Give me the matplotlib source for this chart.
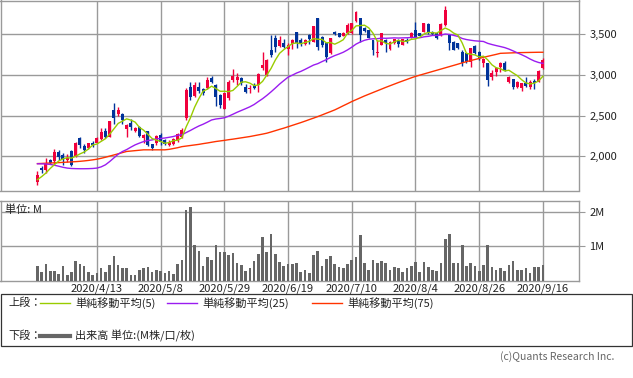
import numpy as np
import pandas as pd
import matplotlib
matplotlib.use('Agg')
import matplotlib.pyplot as plt
from matplotlib.lines import Line2D
from matplotlib.patches import Rectangle
from matplotlib.ticker import FuncFormatter

plt.rcParams['font.family'] = ['Noto Sans CJK JP', 'DejaVu Sans']

# ---------------- data ----------------
holidays = ['2020-04-29', '2020-05-04', '2020-05-05', '2020-05-06',
            '2020-07-23', '2020-07-24', '2020-08-10']
dates = [d for d in pd.bdate_range('2020-03-24', '2020-09-16')
         if d.strftime('%Y-%m-%d') not in holidays]

opens = [1690,1862,1834,1955,1936,2051,2018,1956,2059,2005,
         2222,2120,2100,2168,2168,2210,2316,2242,2569,2520,
         2520,2330,2413,2316,2360,2222,2312,2145,2161,2265,
         2202,2135,2153,2190,2235,2475,2850,2740,2845,2820,
         2835,2965,2875,2753,2578,2720,2937,2937,2957,2855,
         2822,2875,2875,3080,2998,3304,3447,3353,3394,3320,
         3374,3520,3426,3374,3488,3406,3692,3467,3386,3263,
         3528,3508,3476,3508,3508,3663,3692,3570,3549,3426,
         3263,3365,3426,3312,3386,3426,3365,3426,3467,3549,
         3508,3528,3623,3528,3508,3488,3610,3488,3406,3386,
         3283,3263,3161,3353,3283,3149,3149,2970,3038,3100,
         3149,2916,2945,2855,2835,2904,2847,2928,2916,3080]
highs = [1815,1883,1980,1969,2091,2079,2038,2030,2079,2181,
         2242,2153,2168,2189,2242,2345,2345,2438,2651,2602,
         2536,2398,2455,2357,2373,2271,2316,2150,2260,2285,
         2215,2195,2225,2285,2345,2835,2916,2908,2916,2835,
         2970,2990,2890,2761,2773,2937,3068,3019,2977,2884,
         2875,2896,3026,3283,3190,3488,3488,3476,3435,3386,
         3439,3528,3450,3440,3500,3598,3700,3470,3386,3455,
         3537,3515,3525,3631,3640,3782,3692,3580,3555,3426,
         3426,3508,3440,3415,3440,3440,3440,3445,3530,3651,
         3515,3640,3630,3535,3515,3630,3843,3500,3410,3390,
         3304,3270,3325,3360,3290,3202,3149,3060,3100,3160,
         3165,2980,2950,2920,2900,2970,2940,2945,3055,3202]
lows = [1650,1793,1797,1907,1907,1956,1895,1928,1875,1997,
        2100,2038,2087,2112,2161,2202,2222,2235,2398,2495,
        2400,2242,2324,2303,2235,2168,2128,2079,2140,2140,
        2135,2120,2140,2180,2225,2447,2691,2732,2780,2750,
        2825,2900,2618,2590,2578,2691,2916,2875,2875,2773,
        2773,2822,2794,3059,2986,3222,3283,3345,3325,3245,
        3316,3325,3355,3365,3374,3400,3304,3340,3161,3255,
        3490,3460,3470,3495,3500,3651,3406,3530,3447,3243,
        3222,3365,3283,3305,3380,3345,3360,3395,3450,3460,
        3470,3520,3500,3490,3440,3480,3598,3304,3300,3315,
        3108,3150,3100,3255,3180,3100,2863,2940,2980,3038,
        3040,2900,2822,2840,2805,2850,2820,2820,2910,3075]
closes = [1775,1834,1904,1923,2051,1997,1965,1977,1895,2168,
          2140,2079,2161,2140,2230,2303,2242,2438,2467,2565,
          2440,2385,2360,2345,2245,2263,2135,2100,2245,2170,
          2145,2181,2215,2271,2318,2814,2732,2875,2800,2773,
          2937,2916,2732,2630,2773,2916,2986,2977,2896,2794,
          2835,2835,3010,3120,3181,3243,3345,3426,3345,3370,
          3426,3386,3374,3426,3435,3598,3345,3365,3215,3455,
          3496,3467,3516,3610,3631,3773,3488,3537,3447,3304,
          3283,3508,3386,3406,3435,3378,3435,3406,3516,3467,
          3476,3631,3508,3496,3447,3623,3794,3386,3304,3325,
          3141,3161,3325,3263,3202,3190,2937,3019,3080,3141,
          3059,2977,2847,2916,2896,2863,2916,2896,3051,3181]
volume_m = [0.41,0.26,0.49,0.29,0.29,0.20,0.41,0.17,0.26,0.58,
            0.47,0.41,0.26,0.17,0.23,0.35,0.26,0.44,0.70,0.44,
            0.35,0.35,0.17,0.15,0.32,0.35,0.38,0.26,0.32,0.29,
            0.23,0.29,0.20,0.47,0.61,2.04,2.13,1.02,0.87,0.41,
            0.67,0.61,1.02,0.84,0.84,0.73,0.79,0.50,0.44,0.29,
            0.35,0.58,0.76,1.28,0.82,1.34,0.76,0.55,0.41,0.47,
            0.47,0.50,0.26,0.32,0.23,0.73,0.87,0.41,0.64,0.70,
            0.47,0.38,0.35,0.47,0.61,0.67,1.31,0.52,0.32,0.61,
            0.50,0.58,0.52,0.32,0.38,0.35,0.26,0.35,0.41,0.55,
            0.26,0.55,0.38,0.32,0.29,0.50,1.20,1.34,0.52,0.50,
            1.02,0.41,0.50,0.41,0.29,0.44,1.02,0.38,0.32,0.35,
            0.29,0.44,0.58,0.32,0.32,0.35,0.23,0.38,0.38,0.44]
closes_prior = [1645, 1685, 1645, 1815]          # closes before the window (for MA5)
ma25_head = [1908,1907,1905,1900,1890,1878,1865,1855,1850,1848,
             1847,1847,1848,1850,1855,1870,1895,1935,1980,2025,
             2058,2082,2112,2140]
ma75 = [1910,1912,1915,1917,1920,1922,1925,1928,1931,1934,
        1938,1943,1949,1956,1964,1975,1988,2002,2016,2030,
        2045,2059,2064,2069,2074,2079,2079,2079,2079,2079,
        2079,2085,2095,2105,2118,2125,2132,2139,2146,2155,
        2163,2172,2181,2188,2195,2203,2210,2218,2226,2234,
        2242,2252,2262,2272,2283,2298,2314,2330,2345,2362,
        2379,2396,2413,2431,2450,2468,2487,2507,2528,2548,
        2569,2594,2620,2645,2671,2694,2717,2740,2761,2782,
        2803,2824,2845,2865,2885,2905,2924,2943,2962,2980,
        2995,3010,3025,3040,3055,3070,3085,3100,3115,3130,
        3146,3161,3174,3187,3200,3214,3226,3238,3250,3263,
        3265,3267,3269,3271,3272,3273,3274,3275,3276,3276]
tick_labels = ['2020/4/13', '2020/5/8', '2020/5/29', '2020/6/19',
               '2020/7/10', '2020/8/4', '2020/8/26', '2020/9/16']
price_ticks = [2000, 2500, 3000, 3500]
vol_ticks = [1, 2]
vol_tick_labels = ['1M', '2M']

# ---------------- derived ----------------
O = np.array(opens, float); H = np.array(highs, float)
L = np.array(lows, float); C = np.array(closes, float)
n = len(C)
x = np.arange(n)
ext = np.array(closes_prior + closes, float)
ma5 = np.array([ext[i:i + 5].mean() for i in range(n)])
ma25 = np.array([ma25_head[i] if i < 24 else C[i - 24:i + 1].mean() for i in range(n)])
date_str = [f"{d.year}/{d.month}/{d.day}" for d in dates]
tick_pos = [date_str.index(t) for t in tick_labels]

# ---------------- figure ----------------
W, Hpx = 633, 378
fig = plt.figure(figsize=(W / 100, Hpx / 100), dpi=100)
fig.patch.set_facecolor('white')
fx = lambda p: p / W
fy = lambda p: 1 - p / Hpx

GRID = '#9a9a9a'
TXT = '#222222'
UP = '#f0003c'
DN = '#00339a'
xl = (-8.7, 127.5)

ax = fig.add_axes([fx(0.5), fy(190.5), fx(579) - fx(0.5), fy(0.5) - fy(190.5)])
axv = fig.add_axes([fx(0.5), fy(280.5), fx(579) - fx(0.5), fy(201) - fy(280.5)])

for a in (ax, axv):
    a.set_xlim(*xl)
    for s in a.spines.values():
        s.set_color(GRID)
        s.set_linewidth(1.0)
    a.set_xticks(tick_pos)
    a.yaxis.tick_right()
    a.tick_params(axis='y', length=4, color=GRID, labelcolor=TXT, labelsize=8, pad=3.5)
    a.tick_params(axis='x', length=0, labelcolor=TXT, labelsize=8, pad=2)
    a.grid(True, color=GRID, lw=1.0)
    a.set_axisbelow(True)

# price panel
ax.set_ylim(1580, 3911)
ax.set_yticks(price_ticks)
ax.yaxis.set_major_formatter(FuncFormatter(lambda v, p: f"{int(v):,}"))
ax.set_xticklabels([])

cols = np.where(C >= O, UP, DN)
ax.vlines(x, L, H, colors=cols, lw=1.0, zorder=3)
body_bottom = np.minimum(O, C)
body_h = np.maximum(np.abs(C - O), 12)
ax.bar(x, body_h, bottom=body_bottom, width=0.7, color=cols, linewidth=0, zorder=4)

ax.plot(x, ma75, color='#ff3300', lw=1.0, zorder=5)
ax.plot(x, ma25, color='#9a1cf0', lw=1.0, zorder=5)
ax.plot(x, ma5, color='#99cc00', lw=1.0, zorder=6)

# volume panel
axv.set_ylim(0, 2.313)
axv.set_yticks(vol_ticks)
axv.set_yticklabels(vol_tick_labels)
axv.set_xticklabels(tick_labels)
axv.bar(x, volume_m, width=0.62, color='#666666', linewidth=0, zorder=3)
fig.text(fx(5), fy(210), '単位: M', fontsize=8, color=TXT, va='center', ha='left')

# legend box
fig.add_artist(Rectangle((fx(0.5), fy(346)), fx(631.5) - fx(0.5), fy(294) - fy(346),
                         transform=fig.transFigure, facecolor='white',
                         edgecolor='#333333', lw=0.9))
ly1, ly2 = 303, 336
fig.text(fx(8), fy(ly1), '上段：', fontsize=8, color=TXT, va='center', ha='left')
fig.text(fx(8), fy(ly2), '下段：', fontsize=8, color=TXT, va='center', ha='left')
legend_items = [(40, 70, '#99cc00', '単純移動平均(5)'),
                (167, 197, '#9a1cf0', '単純移動平均(25)'),
                (312, 342, '#ff3300', '単純移動平均(75)')]
for x0, x1, c, t in legend_items:
    fig.add_artist(Line2D([fx(x0), fx(x1)], [fy(ly1), fy(ly1)], transform=fig.transFigure,
                          color=c, lw=1.0))
    fig.text(fx(x1 + 5), fy(ly1), t, fontsize=8, color=TXT, va='center', ha='left')
fig.add_artist(Line2D([fx(40), fx(70)], [fy(ly2), fy(ly2)], transform=fig.transFigure,
                      color='#666666', lw=3.0))
fig.text(fx(75), fy(ly2), '出来高 単位:(M株/口/枚)', fontsize=8, color=TXT, va='center', ha='left')

fig.text(fx(614), fy(357), '(c)Quants Research Inc.', fontsize=7.5, color='#666666',
         va='center', ha='right')

fig.savefig('out.png', dpi=100, facecolor='white')
